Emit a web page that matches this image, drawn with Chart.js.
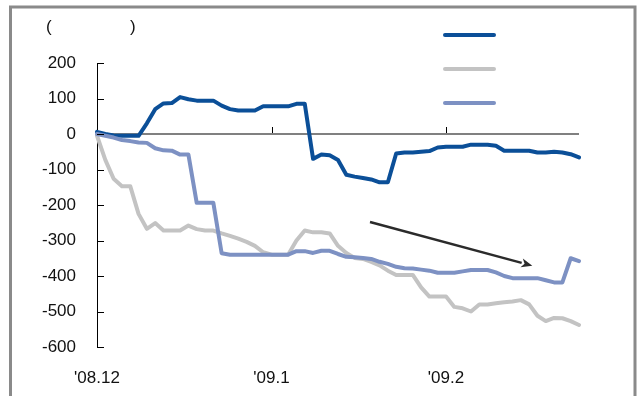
<!DOCTYPE html>
<html>
<head>
<meta charset="utf-8">
<script src="https://cdn.jsdelivr.net/npm/chart.js@4/dist/chart.umd.min.js"></script>
<style>
  html, body { margin: 0; padding: 0; background: #fff; }
  #wrap { width: 639px; height: 396px; }
</style>
</head>
<body>
<div id="wrap"><canvas id="c" width="639" height="396"></canvas></div>
<script>
// Month labels and the position (trading-day index) where each month starts
const monthLabels = ["'08.12", "'09.1", "'09.2"];
const monthStarts = [0, 21, 42];
const pointCount = 59;

// Cumulative net figures per trading day
const seriesNavy = [
  6, 0, -4, -5, -5, -5, 30, 70, 86, 87,
  104, 98, 94, 94, 94, 80, 70, 66, 66, 66,
  78, 78, 78, 78, 85, 85, -70, -58, -60, -73,
  -115, -120, -124, -128, -136, -136, -55, -52, -52, -50,
  -48, -38, -36, -36, -36, -30, -30, -30, -33, -47,
  -47, -47, -47, -52, -52, -50, -52, -57, -66
];
const seriesGray = [
  -5, -73, -126, -147, -147, -225, -267, -251, -272, -272,
  -272, -258, -268, -272, -272, -280, -287, -295, -304, -315,
  -333, -340, -340, -340, -300, -272, -277, -277, -280, -315,
  -335, -349, -352, -360, -370, -385, -397, -397, -397, -432,
  -458, -458, -458, -487, -491, -500, -480, -480, -477, -474,
  -472, -468, -480, -512, -527, -518, -519, -527, -538
];
const seriesSteel = [
  0, -5, -10, -17, -20, -24, -25, -40, -46, -47,
  -58, -58, -194, -194, -194, -336, -340, -340, -340, -340,
  -340, -340, -340, -340, -330, -330, -335, -329, -329, -338,
  -346, -347, -349, -352, -360, -366, -374, -378, -379, -382,
  -385, -391, -391, -391, -387, -383, -383, -383, -390, -400,
  -406, -406, -406, -406, -412, -418, -418, -350, -358
];

// Value axis range
const yMin = -600, yMax = 200, yStep = 100;

// Trend arrow, as [index, value] pairs
const arrowFrom = [32.85, -248];
const arrowTo = [52.38, -371];

const categories = Array.from({ length: pointCount }, (_, i) => {
  const k = monthStarts.indexOf(i);
  return k >= 0 ? monthLabels[k] : '';
});

const NAVY = '#0b4f98';
const GRAY = '#c3c3c3';
const STEEL = '#7d91c3';
const FONT = { family: "'Liberation Sans', Arial, sans-serif", size: 17 };

// Outer frame (left, top and right edges)
const framePlugin = {
  id: 'frame',
  beforeDraw(chart) {
    const ctx = chart.ctx;
    ctx.save();
    ctx.fillStyle = '#fff';
    ctx.fillRect(0, 0, chart.width, chart.height);
    ctx.strokeStyle = '#8a8a8a';
    ctx.lineWidth = 3;
    ctx.beginPath();
    ctx.moveTo(10.5, chart.height);
    ctx.lineTo(10.5, 7);
    ctx.lineTo(635, 7);
    ctx.lineTo(635, chart.height);
    ctx.stroke();
    ctx.restore();
  }
};

// Unit caption and legend swatches
const headerPlugin = {
  id: 'header',
  afterDraw(chart) {
    const ctx = chart.ctx;
    ctx.save();
    ctx.fillStyle = '#111';
    ctx.font = FONT.size + 'px ' + FONT.family;
    ctx.textBaseline = 'middle';
    ctx.textAlign = 'left';
    ctx.fillText('(', 46, 27);
    ctx.fillText(')', 130, 27);
    const rows = [35, 69, 103];
    chart.data.datasets.forEach((ds, i) => {
      ctx.strokeStyle = ds.borderColor;
      ctx.lineWidth = 4;
      ctx.lineCap = 'round';
      ctx.beginPath();
      ctx.moveTo(445, rows[i]);
      ctx.lineTo(494, rows[i]);
      ctx.stroke();
    });
    ctx.restore();
  }
};

// Inward tick marks on both axes, plus the trend arrow
const marksPlugin = {
  id: 'marks',
  afterDatasetsDraw(chart) {
    const ctx = chart.ctx;
    const xs = chart.scales.x, ys = chart.scales.y;
    const left = chart.chartArea.left;
    ctx.save();
    ctx.strokeStyle = '#000';
    ctx.lineWidth = 1;
    ctx.beginPath();
    for (let v = yMin; v <= yMax; v += yStep) {
      const py = Math.round(ys.getPixelForValue(v)) + 0.5;
      ctx.moveTo(left, py);
      ctx.lineTo(left + 7, py);
    }
    const zero = ys.getPixelForValue(0);
    monthStarts.slice(1).forEach(idx => {
      const px = Math.round(xs.getPixelForValue(idx)) + 0.5;
      ctx.moveTo(px, zero - 1);
      ctx.lineTo(px, zero - 7);
    });
    ctx.stroke();

    const x1 = xs.getPixelForValue(arrowFrom[0]), y1 = ys.getPixelForValue(arrowFrom[1]);
    const x2 = xs.getPixelForValue(arrowTo[0]), y2 = ys.getPixelForValue(arrowTo[1]);
    const ang = Math.atan2(y2 - y1, x2 - x1);
    const headLen = 11, headHalf = 4.5;
    const bx = x2 - headLen * Math.cos(ang), by = y2 - headLen * Math.sin(ang);
    ctx.strokeStyle = '#2b2b2b';
    ctx.fillStyle = '#2b2b2b';
    ctx.lineWidth = 2.5;
    ctx.beginPath();
    ctx.moveTo(x1, y1);
    ctx.lineTo(bx, by);
    ctx.stroke();
    ctx.beginPath();
    ctx.moveTo(x2, y2);
    ctx.lineTo(bx + headHalf * Math.sin(ang), by - headHalf * Math.cos(ang));
    ctx.lineTo(bx + 3 * Math.cos(ang), by + 3 * Math.sin(ang));
    ctx.lineTo(bx - headHalf * Math.sin(ang), by + headHalf * Math.cos(ang));
    ctx.closePath();
    ctx.fill();
    ctx.restore();
  }
};

const lineStyle = (color, order) => ({
  borderColor: color,
  backgroundColor: color,
  borderWidth: 4,
  pointRadius: 0,
  tension: 0,
  fill: false,
  borderJoinStyle: 'round',
  borderCapStyle: 'round',
  order
});

new Chart(document.getElementById('c'), {
  type: 'line',
  data: {
    labels: categories,
    datasets: [
      { label: 'navy', data: seriesNavy, ...lineStyle(NAVY, 3) },
      { label: 'gray', data: seriesGray, ...lineStyle(GRAY, 2) },
      { label: 'steel', data: seriesSteel, ...lineStyle(STEEL, 1) }
    ]
  },
  options: {
    responsive: false,
    animation: false,
    layout: { padding: { top: 63, right: 60, bottom: 0, left: 0 } },
    plugins: {
      legend: { display: false },
      tooltip: { enabled: false },
      title: { display: false }
    },
    scales: {
      x: {
        type: 'category',
        offset: false,
        afterFit(scale) { scale.height = 49; },
        grid: { display: false, drawTicks: false },
        border: { display: false },
        ticks: {
          autoSkip: false,
          maxRotation: 0,
          minRotation: 0,
          padding: 21,
          color: '#111',
          font: FONT
        }
      },
      y: {
        min: yMin,
        max: yMax,
        afterFit(scale) { scale.width = 97; },
        grid: {
          drawTicks: false,
          color: c => (c.tick && c.tick.value === 0 ? '#808080' : 'rgba(0,0,0,0)'),
          lineWidth: c => (c.tick && c.tick.value === 0 ? 2 : 0)
        },
        border: { display: true, color: '#000', width: 1 },
        ticks: {
          stepSize: yStep,
          padding: 21,
          color: '#111',
          font: FONT
        }
      }
    }
  },
  plugins: [framePlugin, headerPlugin, marksPlugin]
});
</script>
</body>
</html>
